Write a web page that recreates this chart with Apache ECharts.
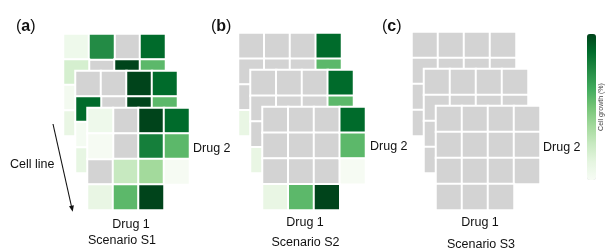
<!DOCTYPE html>
<html>
<head>
<meta charset="utf-8">
<script src="https://cdn.jsdelivr.net/npm/echarts@6/dist/echarts.min.js"></script>
<style>
    html, body { margin: 0; padding: 0; background: #fff; }
    #chart { width: 606px; height: 251px; }
</style>
</head>
<body>
<div id="chart"></div>
<script>
// cell growth (%) per drug1 x drug2 combination, one 4x4 block per cell line
// null = not measured (grey cell), short last row = no cell at all
const drug1Doses = ['d1', 'd2', 'd3', 'd4'];
const drug2Doses = ['d1', 'd2', 'd3', 'd4'];

const s1Back = [
    [6, 75, null, 88],
    [19, null, 100, 56],
    [3, 30, 80, null],
    [10, 56, 90]
];
const s1Mid = [
    [null, null, 100, 88],
    [88, null, 100, 56],
    [2, 40, null, 70],
    [11, 25, 85]
];
const s1Front = [
    [6, null, 100, 88],
    [1, null, 80, 56],
    [null, 25, 37, 1],
    [10, 56, 100]
];

const s2Back = [
    [null, null, null, 88],
    [null, null, null, 56],
    [null, null, null, 1],
    [10, 56, 100]
];
const s2Mid = [
    [null, null, null, 88],
    [null, null, null, 56],
    [null, null, null, 1],
    [10, 56, 100]
];
const s2Front = [
    [null, null, null, 88],
    [null, null, null, 56],
    [null, null, null, 1],
    [10, 56, 100]
];

const s3Back = [
    [null, null, null, null],
    [null, null, null, null],
    [null, null, null, null],
    [null, null, null]
];
const s3Mid = [
    [null, null, null, null],
    [null, null, null, null],
    [null, null, null, null],
    [null, null, null]
];
const s3Front = [
    [null, null, null, null],
    [null, null, null, null],
    [null, null, null, null],
    [null, null, null]
];

const scenarioNames = ['Scenario S1', 'Scenario S2', 'Scenario S3'];
const panelLetters = ['a', 'b', 'c'];
const scenarios = [
    [s1Back, s1Mid, s1Front],
    [s2Back, s2Mid, s2Front],
    [s3Back, s3Mid, s3Front]
];

const greens = ['#f7fcf5', '#e5f5e0', '#c7e9c0', '#a1d99b', '#74c476', '#41ab5d', '#238b45', '#006d2c', '#00441b'];

// layout (px)
const panelLeft = [63.5, 238.5, 412];
const panelTop = [34, 33, 32];
const blockSize = [102, 103, 104];
const layerDx = 12;
const layerDy = 37;
const FONT = '"Liberation Sans", Arial, sans-serif';

function buildOption() {
    const grids = [], xAxes = [], yAxes = [], series = [], coloured = [];

    scenarios.forEach((layers, p) => {
        layers.forEach((rows, l) => {
            const gi = grids.length;
            grids.push({
                left: panelLeft[p] + l * layerDx,
                top: panelTop[p] + l * layerDy,
                width: blockSize[p],
                height: blockSize[p]
            });
            xAxes.push({type: 'category', gridIndex: gi, data: drug1Doses, show: false});
            yAxes.push({type: 'category', gridIndex: gi, data: drug2Doses, inverse: true, show: false});

            const grey = [], vals = [];
            rows.forEach((row, r) => {
                row.forEach((v, c) => {
                    if (v === null) grey.push([c, r, 0]);
                    else vals.push([c, r, v]);
                });
            });

            series.push({
                type: 'heatmap', xAxisIndex: gi, yAxisIndex: gi, data: grey,
                itemStyle: {color: '#d3d3d3', borderColor: '#fff', borderWidth: 2},
                emphasis: {disabled: true}
            });
            coloured.push(series.length);
            series.push({
                type: 'heatmap', xAxisIndex: gi, yAxisIndex: gi, data: vals,
                itemStyle: {borderColor: '#fff', borderWidth: 2},
                emphasis: {disabled: true}
            });
        });
    });

    const graphics = [];
    const letterX = [16, 211, 382];
    const drug2Pos = [[193, 149], [370, 147], [543, 148]];
    const drug1Pos = [[131, 225], [305, 223], [480, 223]];
    const scenPos = [[122, 241], [305.5, 243], [481, 245]];

    panelLetters.forEach((ch, i) => {
        graphics.push({
            type: 'text', left: letterX[i], top: 19,
            style: {
                text: '{p|(}{b|' + ch + '}{p|)}',
                rich: {
                    p: {fontSize: 16, fontFamily: FONT, fill: '#111'},
                    b: {fontSize: 16, fontFamily: FONT, fontWeight: 'bold', fill: '#111'}
                }
            }
        });
        graphics.push({
            type: 'text', x: drug2Pos[i][0], y: drug2Pos[i][1],
            style: {text: 'Drug 2', fontSize: 12.5, fontFamily: FONT, fill: '#111', verticalAlign: 'middle'}
        });
        graphics.push({
            type: 'text', x: drug1Pos[i][0], y: drug1Pos[i][1],
            style: {text: 'Drug 1', fontSize: 12.5, fontFamily: FONT, fill: '#111', align: 'center', verticalAlign: 'middle'}
        });
        graphics.push({
            type: 'text', x: scenPos[i][0], y: scenPos[i][1],
            style: {text: scenarioNames[i], fontSize: 12.5, fontFamily: FONT, fill: '#111', align: 'center', verticalAlign: 'middle'}
        });
    });

    // cell line arrow
    graphics.push({
        type: 'text', x: 10, y: 165,
        style: {text: 'Cell line', fontSize: 12.5, fontFamily: FONT, fill: '#111', verticalAlign: 'middle'}
    });
    graphics.push({
        type: 'line', shape: {x1: 53, y1: 124, x2: 71.6, y2: 207},
        style: {stroke: '#111', lineWidth: 1.1}
    });
    graphics.push({
        type: 'polygon', shape: {points: [[72.7, 211.7], [73.9, 205.3], [69.0, 206.3]]},
        style: {fill: '#111'}
    });

    // colour bar title
    graphics.push({
        type: 'text', x: 601, y: 107, rotation: Math.PI / 2,
        style: {text: 'Cell growth (%)', fontSize: 7, fontFamily: FONT, fill: '#444', align: 'center', verticalAlign: 'middle'}
    });

    return {
        backgroundColor: '#fff',
        animation: false,
        grid: grids,
        xAxis: xAxes,
        yAxis: yAxes,
        visualMap: {
            type: 'continuous',
            min: 0, max: 100,
            seriesIndex: coloured,
            calculable: false,
            realtime: false,
            left: 587, top: 34,
            itemWidth: 9, itemHeight: 146,
            padding: 0,
            text: ['', ''],
            inRange: {color: greens}
        },
        graphic: graphics,
        series: series
    };
}

const chart = echarts.init(document.getElementById('chart'));
chart.setOption(buildOption());
</script>
</body>
</html>
